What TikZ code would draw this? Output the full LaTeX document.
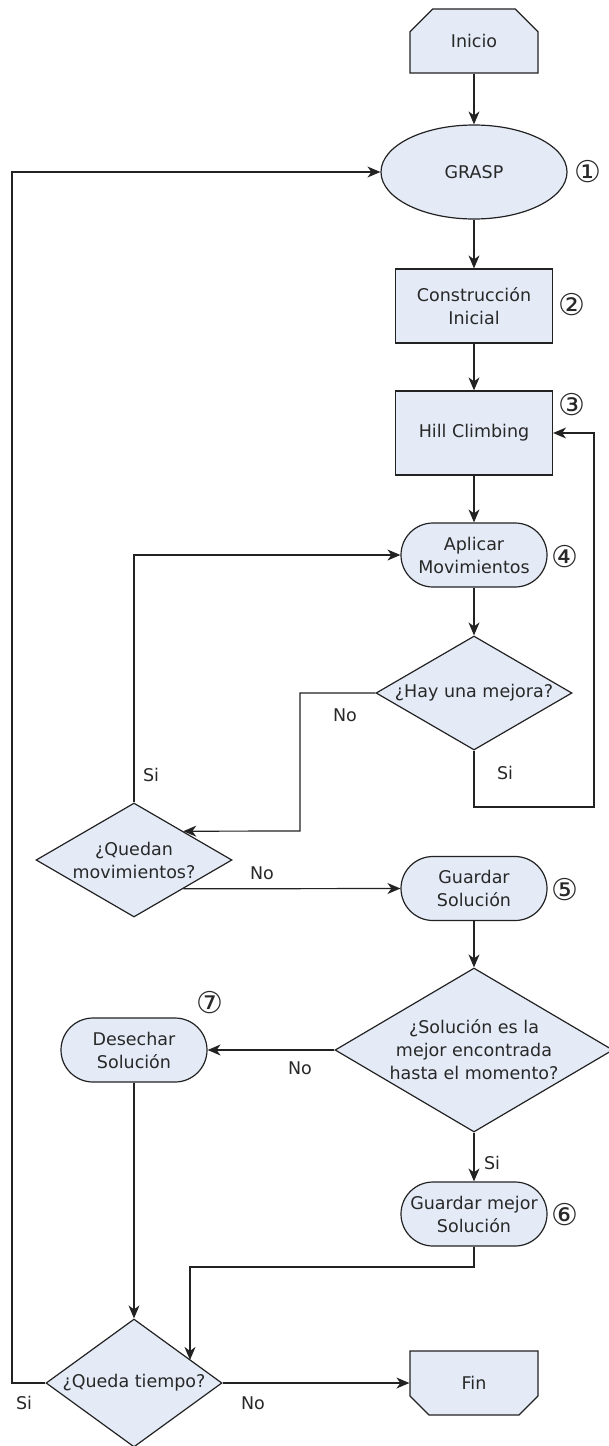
\documentclass[tikz,border=0pt]{standalone}
\usepackage{fontspec}
\setmainfont{DejaVu Sans}
\usetikzlibrary{shapes.geometric,shapes.misc,arrows.meta,calc}
\definecolor{boxfill}{RGB}{228,235,247}
\definecolor{ln}{RGB}{34,34,34}
\definecolor{tx}{RGB}{40,40,40}
\begin{document}
\begin{tikzpicture}[x=1pt,y=-1pt,
  every node/.style={font=\fontsize{17.5}{23}\selectfont, text=tx, align=center},
  base/.style={draw=ln, fill=boxfill, line width=1.2pt, inner sep=0pt},
  procbox/.style={base, rectangle, minimum width=157pt, minimum height=75pt},
  termtop/.style={base, chamfered rectangle, chamfered rectangle corners={north west,north east}, chamfered rectangle xsep=17pt, chamfered rectangle ysep=16pt, minimum width=128pt, minimum height=64pt},
  termbot/.style={base, chamfered rectangle, chamfered rectangle corners={south west,south east}, chamfered rectangle xsep=17pt, chamfered rectangle ysep=16pt, minimum width=128pt, minimum height=64pt},
  stadium/.style={base, rounded rectangle, minimum width=146pt, minimum height=64pt},
  arr/.style={draw=ln, line width=1.2pt, -{Stealth[length=13pt,width=11pt,inset=4pt]}},
  num/.style={font=\fontsize{30}{32}\selectfont, text=tx, inner sep=0pt},
  lbl/.style={font=\fontsize{17.5}{20}\selectfont, text=tx}
]
\useasboundingbox (0,0) rectangle (608,1446);

% nodes
\node[termtop] (inicio) at (474,41) {Inicio};
\node[base, ellipse, minimum width=186pt, minimum height=94pt] (grasp) at (474,172) {GRASP};
\node[procbox, minimum height=74pt] (cons) at (474,306) {Construcción\\Inicial};
\node[procbox, minimum height=84pt] (hill) at (474,433) {Hill Climbing};
\node[stadium] (apl) at (474,555) {Aplicar\\Movimientos};
\node[base, diamond, minimum width=196pt, minimum height=114pt,
  label={[text=tx]center:¿Hay una mejora?}] (hay) at (474,693) {};
\node[base, diamond, minimum width=196pt, minimum height=114pt,
  label={[text=tx, align=center]center:¿Quedan\\movimientos?}] (qued) at (134,860) {};
\node[stadium] (gs) at (474,888.5) {Guardar\\Solución};
\node[base, diamond, minimum width=278pt, minimum height=164pt,
  label={[text=tx, align=center]center:¿Solución es la\\mejor encontrada\\hasta el momento?}] (sol) at (474,1050) {};
\node[stadium] (des) at (134,1050) {Desechar\\Solución};
\node[stadium] (gms) at (474,1214) {Guardar mejor\\Solución};
\node[base, diamond, minimum width=176pt, minimum height=128pt,
  label={[text=tx]center:¿Queda tiempo?}] (queda) at (134,1383) {};
\node[termbot] (fin) at (474,1383) {Fin};

% circled numbers
\node[num] (n1) at (588,172) {①};
\node[num] (n2) at (572,305) {②};
\node[num] (n3) at (572,405) {③};
\node[num] (n4) at (565,557) {④};
\node[num] (n5) at (565,890) {⑤};
\node[num] (n6) at (565,1215) {⑥};
\node[num] (n7) at (210,1003) {⑦};

% helper coordinates
\coordinate (c1) at (594,807);
\coordinate (c2) at (300,831);
\coordinate (c3) at (190,1267);
\coordinate (c4) at (12,1383);

% connectors
\draw[arr] (inicio.south) -- (grasp.north);
\draw[arr] (grasp.south) -- (cons.north);
\draw[arr] (cons.south) -- (hill.north);
\draw[arr] (hill.south) -- (apl.north);
\draw[arr] (apl.south) -- (hay.north);
\draw[arr] (hay.south) |- (c1) |- (hill.east);
\draw[arr] (hay.west) -| (c2) -- (qued.north east);
\draw[arr] (qued.north) |- (apl.west);
\draw[arr] (qued.south east) -- (gs.west);
\draw[arr] (gs.south) -- (sol.north);
\draw[arr] (sol.west) -- (des.east);
\draw[arr] (sol.south) -- (gms.north);
\draw[arr] (gms.south) |- (c3) -- (c3 |- queda.22);
\draw[arr] (des.south) -- (queda.north);
\draw[arr] (queda.west) -- (c4) |- (grasp.west);
\draw[arr] (queda.east) -- (fin.west);

% edge labels
\node[lbl] (l1) at (345,715) {No};
\node[lbl] (l2) at (505,773) {Si};
\node[lbl] (l3) at (151,775) {Si};
\node[lbl] (l4) at (262,873) {No};
\node[lbl] (l5) at (300,1068) {No};
\node[lbl] (l6) at (492,1163) {Si};
\node[lbl] (l7) at (24,1403) {Si};
\node[lbl] (l8) at (253,1403) {No};
\end{tikzpicture}
\end{document}
